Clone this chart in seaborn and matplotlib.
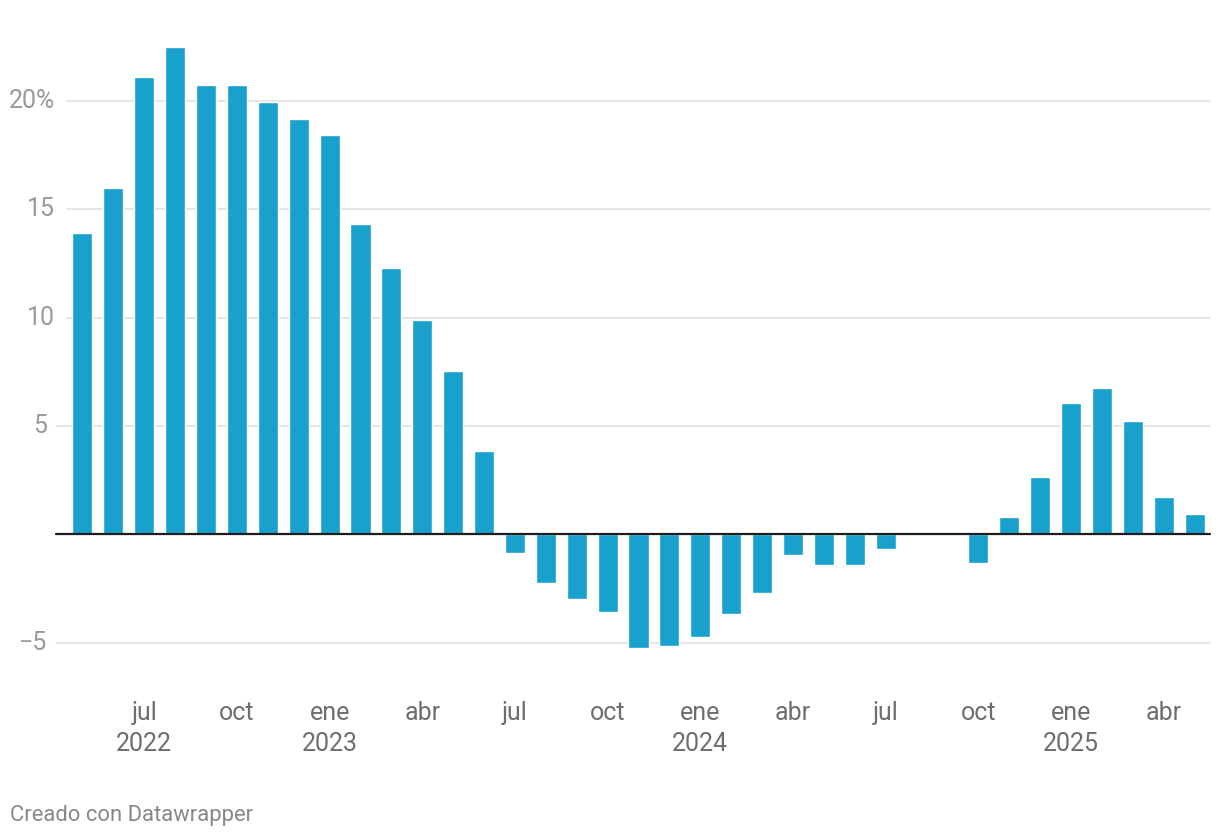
import matplotlib
matplotlib.use("Agg")
import matplotlib.pyplot as plt
import matplotlib.transforms as mtransforms
import seaborn as sns
import pandas as pd
import numpy as np

# monthly values, may 2022 - may 2025 (aug/sep 2024 have no value)
meses = pd.date_range("2022-05-01", "2025-05-01", freq="MS")
valores = [13.9, 16.0, 21.1, 22.5, 20.75, 20.75, 19.95, 19.15, 18.45, 14.3, 12.3, 9.9,
           7.55, 3.85, -0.85, -2.25, -3.0, -3.6, -5.25, -5.15, -4.75, -3.7, -2.7, -0.97,
           -1.4, -1.43, -0.7, np.nan, np.nan, -1.34, 0.8, 2.65, 6.08, 6.77, 5.23, 1.72,
           0.92]

tick_pos = [2, 5, 8, 11, 14, 17, 20, 23, 26, 29, 32, 35]
tick_labels = ["jul\n2022", "oct", "ene\n2023", "abr", "jul", "oct",
               "ene\n2024", "abr", "jul", "oct", "ene\n2025", "abr"]
y_ticks = [-5, 5, 10, 15, 20]
y_labels = ["\u22125", "5", "10", "15", "20%"]

df = pd.DataFrame({"mes": [m.strftime("%Y-%m") for m in meses], "valor": valores})

sns.set_style("white")
plt.rcParams["font.family"] = ["Roboto", "DejaVu Sans"]

fig = plt.figure(figsize=(12.2, 8.38), dpi=100)
ax = fig.add_axes([67 / 1220, 0.1945, 1143 / 1220, 0.7625])

sns.barplot(data=df, x="mes", y="valor", order=df["mes"], color="#18a1cd",
            saturation=1, width=0.65, errorbar=None, ax=ax, zorder=3)

ax.set_xlim(-0.5, len(df) - 0.5)
ax.set_ylim(-6.5, 23)

# gridlines + y labels, datawrapper style
trans = mtransforms.blended_transform_factory(ax.transAxes, ax.transData)
for t, lab in zip(y_ticks, y_labels):
    short = abs(t) < 10
    ax.axhline(t, xmin=-0.0096 if short else 0, xmax=1, color="#e5e5e5",
               lw=1.4, clip_on=False, zorder=1)
    ax.text(-0.0175 if short else -0.0105, t, lab, transform=trans, ha="right",
            va="center", fontsize=18, color="#9a9a9a")
ax.axhline(0, xmin=-0.0096, xmax=1, color="#1d1d1d", lw=1.6, clip_on=False, zorder=4)

ax.set_yticks([])
ax.set_xticks(tick_pos)
ax.set_xticklabels(tick_labels, fontsize=18, color="#6e6e6e", linespacing=1.35)
ax.tick_params(axis="x", length=0, pad=19)
ax.set_xlabel("")
ax.set_ylabel("")
sns.despine(ax=ax, left=True, bottom=True)

fig.text(10 / 1220, 1 - 815 / 838, "Creado con Datawrapper", fontsize=15.8,
         color="#888888", ha="left", va="center")

fig.savefig("out.png", dpi=100)
